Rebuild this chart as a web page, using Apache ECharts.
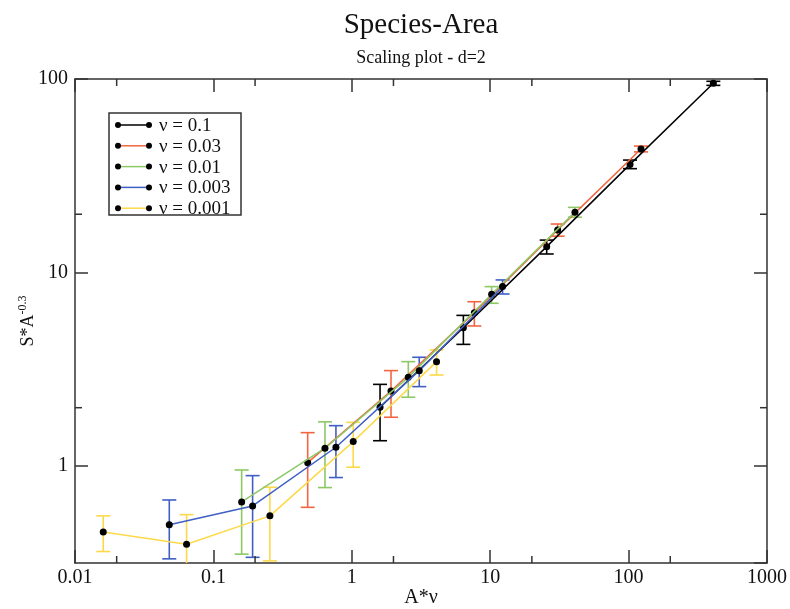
<!DOCTYPE html>
<html><head><meta charset="utf-8">
<script src="https://cdn.jsdelivr.net/npm/echarts@6/dist/echarts.min.js"></script>
<style>html,body{margin:0;padding:0;background:#fff}#c{width:790px;height:609px}</style>
</head><body><div id="c"></div>
<script>
// ---- data ----
const seriesNames = ['ν = 0.1', 'ν = 0.03', 'ν = 0.01', 'ν = 0.003', 'ν = 0.001'];
const seriesColors = ['#000000', '#f26540', '#8dc866', '#3f5fc4', '#fdd94a'];

const xNu01  = [1.6, 6.4, 25.6, 102.4, 409.6];
const yNu01  = [2.01, 5.18, 13.6, 36.2, 95.0];
const loNu01 = [1.35, 4.25, 12.46, 34.4, 92.7];
const hiNu01 = [2.64, 6.0, 14.7, 38.1, 97.3];

const xNu003  = [0.48, 1.92, 7.68, 30.72, 122.88];
const yNu003  = [1.04, 2.44, 6.2, 16.6, 43.5];
const loNu003 = [0.611, 1.785, 5.29, 15.4, 42.0];
const hiNu003 = [1.486, 3.11, 7.06, 17.8, 45.0];

const xNu001  = [0.16, 0.64, 2.56, 10.24, 40.96];
const yNu001  = [0.652, 1.235, 2.87, 7.71, 20.5];
const loNu001 = [0.350, 0.773, 2.265, 6.93, 19.3];
const hiNu001 = [0.953, 1.69, 3.46, 8.45, 21.7];

const xNu0003  = [0.048, 0.192, 0.768, 3.072, 12.288];
const yNu0003  = [0.497, 0.621, 1.249, 3.108, 8.45];
const loNu0003 = [0.331, 0.337, 0.871, 2.57, 7.74];
const hiNu0003 = [0.667, 0.891, 1.615, 3.645, 9.15];

const xNu0001  = [0.016, 0.064, 0.256, 1.024, 4.096];
const yNu0001  = [0.456, 0.394, 0.552, 1.336, 3.46];
const loNu0001 = [0.361, 0.30, 0.323, 0.985, 2.95];
const hiNu0001 = [0.552, 0.56, 0.776, 1.68, 3.98];

const xMin = 0.01, xMax = 1000;
const yMin = 0.315, yMax = 100;
const minorXTicks = [0.02, 0.2, 2, 20, 200];
const minorYTicks = [2, 20];

const allX  = [xNu01, xNu003, xNu001, xNu0003, xNu0001];
const allY  = [yNu01, yNu003, yNu001, yNu0003, yNu0001];
const allLo = [loNu01, loNu003, loNu001, loNu0003, loNu0001];
const allHi = [hiNu01, hiNu003, hiNu001, hiNu0003, hiNu0001];

// ---- chart ----
const FONT = '"Liberation Serif", "DejaVu Serif", serif';
const AXC = '#333';
const chart = echarts.init(document.getElementById('c'), null, {renderer: 'canvas'});

function fmt(v) { return String(parseFloat(Number(v).toPrecision(6))); }

function errRender(color) {
  return function (params, api) {
    const x = api.value(0), lo = api.value(1), hi = api.value(2);
    const pLo = api.coord([x, lo]), pHi = api.coord([x, hi]);
    const w = 7;
    const style = {stroke: color, lineWidth: 1.6, fill: null};
    return {type: 'group', children: [
      {type: 'line', shape: {x1: pLo[0], y1: pLo[1], x2: pHi[0], y2: pHi[1]}, style},
      {type: 'line', shape: {x1: pLo[0] - w, y1: pLo[1], x2: pLo[0] + w, y2: pLo[1]}, style},
      {type: 'line', shape: {x1: pHi[0] - w, y1: pHi[1], x2: pHi[0] + w, y2: pHi[1]}, style}
    ]};
  };
}

const series = [];
for (let i = 0; i < seriesNames.length; i++) {
  series.push({
    type: 'custom', name: seriesNames[i] + ' err', clip: true, silent: true, z: 2,
    xAxisIndex: 0, yAxisIndex: 0,
    encode: {x: 0, y: [1, 2]},
    data: allX[i].map((x, j) => [x, allLo[i][j], allHi[i][j]]),
    renderItem: errRender(seriesColors[i])
  });
}
for (let i = 0; i < seriesNames.length; i++) {
  series.push({
    type: 'line', name: seriesNames[i], z: 3 + i,
    xAxisIndex: 0, yAxisIndex: 0,
    symbol: 'circle', symbolSize: 7, showSymbol: true,
    itemStyle: {color: '#000'},
    lineStyle: {color: seriesColors[i], width: 1.5},
    emphasis: {disabled: true},
    data: allX[i].map((x, j) => [x, allY[i][j]])
  });
}
series.push({
  type: 'custom', silent: true, clip: false, z: 10,
  xAxisIndex: 0, yAxisIndex: 0, encode: {x: 0, y: 1},
  data: minorXTicks.map(v => [v, 1]),
  renderItem: function (params, api) {
    const cs = params.coordSys;
    const px = api.coord([api.value(0), 1])[0];
    const st = {stroke: AXC, lineWidth: 1.5};
    return {type: 'group', children: [
      {type: 'line', shape: {x1: px, y1: cs.y + cs.height, x2: px, y2: cs.y + cs.height - 7}, style: st},
      {type: 'line', shape: {x1: px, y1: cs.y, x2: px, y2: cs.y + 7}, style: st}
    ]};
  }
});
series.push({
  type: 'custom', silent: true, clip: false, z: 10,
  xAxisIndex: 0, yAxisIndex: 0, encode: {x: 0, y: 1},
  data: minorYTicks.map(v => [1, v]),
  renderItem: function (params, api) {
    const cs = params.coordSys;
    const py = api.coord([1, api.value(1)])[1];
    const st = {stroke: AXC, lineWidth: 1.5};
    return {type: 'group', children: [
      {type: 'line', shape: {x1: cs.x, y1: py, x2: cs.x + 7, y2: py}, style: st},
      {type: 'line', shape: {x1: cs.x + cs.width, y1: py, x2: cs.x + cs.width - 7, y2: py}, style: st}
    ]};
  }
});

const LX = 109, LY = 113, LW = 132, LH = 102, ROW = 20.8, R0 = 125;
const legendEls = [{type: 'rect', shape: {x: LX, y: LY, width: LW, height: LH},
  style: {fill: '#fff', stroke: AXC, lineWidth: 1.5}, z: 100}];
seriesNames.forEach((n, i) => {
  const yy = R0 + i * ROW;
  legendEls.push({type: 'line', shape: {x1: 118, y1: yy, x2: 149, y2: yy},
    style: {stroke: seriesColors[i], lineWidth: 1.5}, z: 101});
  legendEls.push({type: 'circle', shape: {cx: 118, cy: yy, r: 3}, style: {fill: '#000'}, z: 102});
  legendEls.push({type: 'circle', shape: {cx: 149, cy: yy, r: 3}, style: {fill: '#000'}, z: 102});
  legendEls.push({type: 'text', x: 159, y: yy + 1, z: 102,
    style: {text: n, font: '19px ' + FONT, fill: '#111', verticalAlign: 'middle', align: 'left'}});
});

const tickStyle = {show: true, inside: true, length: 13, lineStyle: {color: AXC, width: 1.5}};
const lineStyle = {show: true, onZero: false, lineStyle: {color: AXC, width: 1.5}};

chart.setOption({
  animation: false,
  backgroundColor: '#fff',
  title: {
    text: 'Species-Area', subtext: 'Scaling plot - d=2',
    left: 416, top: 6, textAlign: 'center', itemGap: 9,
    textStyle: {fontFamily: FONT, fontSize: 29, fontWeight: 'normal', color: '#111'},
    subtextStyle: {fontFamily: FONT, fontSize: 18, color: '#111'}
  },
  grid: {left: 75, right: 23, top: 79, bottom: 46, containLabel: false, outerBoundsMode: 'none'},
  xAxis: [
    {type: 'log', logBase: 10, min: xMin, max: xMax, position: 'bottom',
     axisLine: lineStyle, axisTick: tickStyle, splitLine: {show: false},
     axisLabel: {fontFamily: FONT, fontSize: 20, color: '#111', margin: 5, formatter: fmt},
     name: 'A*ν', nameLocation: 'middle', nameGap: 25, nameMoveOverlap: false,
     nameTextStyle: {fontFamily: FONT, fontSize: 20, color: '#111'}},
    {type: 'log', logBase: 10, min: xMin, max: xMax, position: 'top',
     axisLine: lineStyle, axisTick: tickStyle, splitLine: {show: false},
     axisLabel: {show: false}}
  ],
  yAxis: [
    {type: 'log', logBase: 10, min: yMin, max: yMax, position: 'left',
     axisLine: lineStyle, axisTick: tickStyle, splitLine: {show: false},
     axisLabel: {fontFamily: FONT, fontSize: 20, color: '#111', margin: 7, formatter: fmt, showMinLabel: false},
     name: '{a|S*A}{s|-0.3}', nameLocation: 'middle', nameGap: 36, nameRotate: 90, nameMoveOverlap: false,
     nameTextStyle: {fontFamily: FONT, fontSize: 18, color: '#111',
       rich: {a: {fontFamily: FONT, fontSize: 18, color: '#111', lineHeight: 22},
              s: {fontFamily: FONT, fontSize: 12, color: '#111', lineHeight: 10, verticalAlign: 'top'}}}},
    {type: 'log', logBase: 10, min: yMin, max: yMax, position: 'right',
     axisLine: lineStyle, axisTick: tickStyle, splitLine: {show: false},
     axisLabel: {show: false}}
  ],
  graphic: legendEls,
  series: series
});
</script>
</body></html>
